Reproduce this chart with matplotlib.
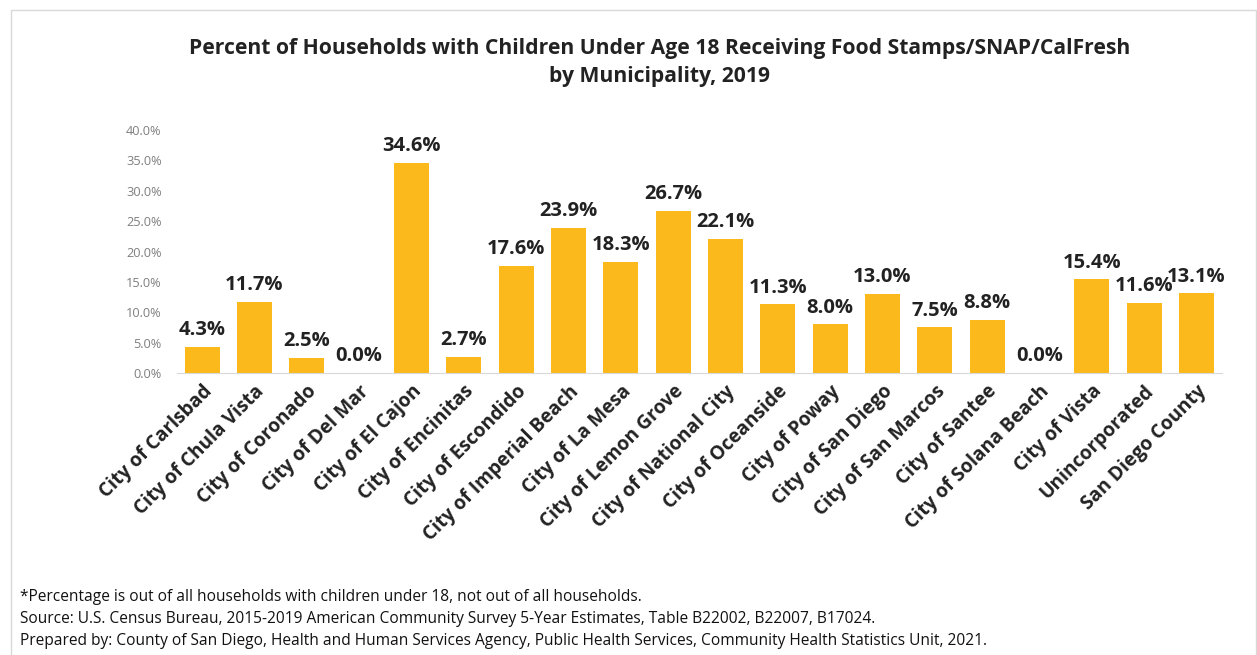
import numpy as np
import matplotlib.pyplot as plt
from matplotlib.patches import Rectangle

plt.rcParams["font.family"] = ["Open Sans", "DejaVu Sans"]

# Data
municipalities = [
    "City of Carlsbad", "City of Chula Vista", "City of Coronado", "City of Del Mar",
    "City of El Cajon", "City of Encinitas", "City of Escondido", "City of Imperial Beach",
    "City of La Mesa", "City of Lemon Grove", "City of National City", "City of Oceanside",
    "City of Poway", "City of San Diego", "City of San Marcos", "City of Santee",
    "City of Solana Beach", "City of Vista", "Unincorporated", "San Diego County",
]
pct_snap = [4.3, 11.7, 2.5, 0.0, 34.6, 2.7, 17.6, 23.9, 18.3, 26.7,
            22.1, 11.3, 8.0, 13.0, 7.5, 8.8, 0.0, 15.4, 11.6, 13.1]
y_ticks = [0, 5, 10, 15, 20, 25, 30, 35, 40]

title = ("Percent of Households with Children Under Age 18 Receiving Food Stamps/SNAP/CalFresh\n"
         "by Municipality, 2019")
notes = [
    "*Percentage is out of all households with children under 18, not out of all households.",
    "Source: U.S. Census Bureau, 2015-2019 American Community Survey 5-Year Estimates, Table B22002, B22007, B17024.",
    "Prepared by: County of San Diego, Health and Human Services Agency, Public Health Services, Community Health Statistics Unit, 2021.",
]

fig = plt.figure(figsize=(12.57, 6.55), dpi=100)
ax = fig.add_axes([0.1408, 0.4305, 0.831, 0.371])

x = np.arange(len(municipalities))
ax.bar(x, pct_snap, width=0.67, color="#FBB91B")

for xi, v in zip(x, pct_snap):
    ax.text(xi, v + 1.1, f"{v:.1f}%", ha="center", va="bottom",
            fontsize=14.5, fontweight="bold", color="#222222")

ax.set_xlim(-0.48, len(municipalities) - 0.52)
ax.set_ylim(0, 40)
ax.set_yticks(y_ticks)
ax.set_yticklabels([f"{t:.1f}%" for t in y_ticks], color="#7F7F7F", fontsize=9.2)
ax.set_xticks(x)
ax.set_xticklabels(municipalities, rotation=45, ha="right", rotation_mode="anchor",
                   fontsize=13.8, fontweight="bold", color="#222222")
ax.tick_params(axis="both", length=0)
ax.tick_params(axis="y", pad=11)
ax.tick_params(axis="x", pad=6)
for s in ["top", "right", "left"]:
    ax.spines[s].set_visible(False)
ax.spines["bottom"].set_color("#D9D9D9")

fig.text(0.525, 0.905, title, ha="center", va="center", fontsize=15.2,
         fontweight="bold", color="#222222", linespacing=1.45)

for i, line in enumerate(notes):
    fig.text(0.016, 0.088 - i * 0.033, line, ha="left", va="center",
             fontsize=11.2, color="#111111")

# light frame around the chart area
fig.add_artist(Rectangle((0.009, -0.02), 0.99, 1.005, transform=fig.transFigure,
                         fill=False, edgecolor="#D9D9D9", linewidth=1))

fig.savefig("out.png", dpi=100)
